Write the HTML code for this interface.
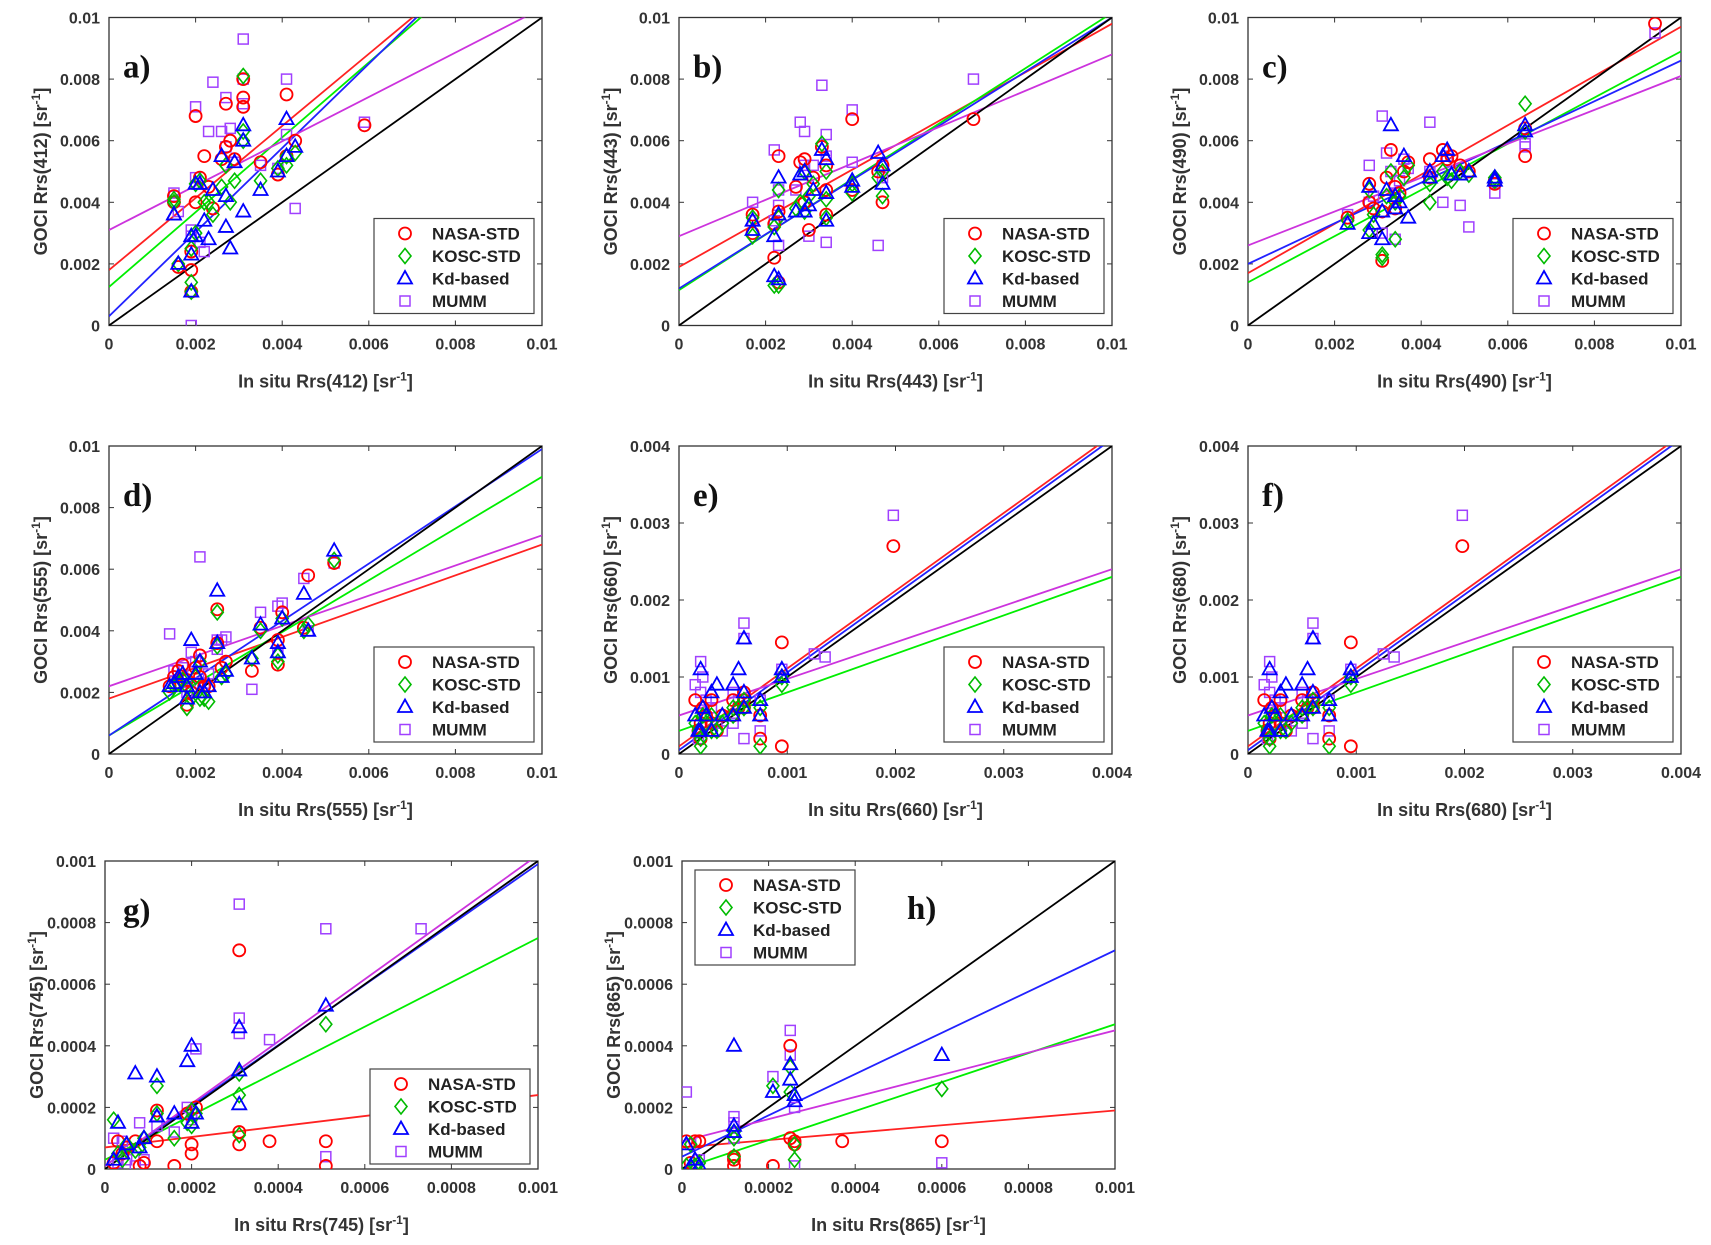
<!DOCTYPE html>
<html><head><meta charset="utf-8"><style>
html,body{margin:0;padding:0;background:#fff;}
svg{display:block;font-family:"Liberation Sans",sans-serif;}
</style></head><body>
<svg id="fig" width="1711" height="1245" viewBox="0 0 1711 1245" xmlns="http://www.w3.org/2000/svg"></svg>
<script>
// ---- data ----
const aX=[0.0015,0.0015,0.0016,0.0019,0.0019,0.0019,0.0020,0.0020,0.0021,0.0022,0.0023,0.0024,0.0026,0.0027,0.0027,0.0028,0.0029,0.0031,0.0031,0.0031,0.0035,0.0039,0.0041,0.0041,0.0043,0.0059];
const aNASA=[0.0042,0.0040,0.0019,0.0018,0.0011,0.0024,0.0040,0.0068,0.0048,0.0055,0.0045,0.0038,0.0054,0.0072,0.0058,0.0060,0.0054,0.0080,0.0074,0.0071,0.0053,0.0049,0.0075,0.0055,0.0060,0.0065];
const aKOSC=[0.0041,0.0040,0.0020,0.0014,0.0011,0.0025,0.0030,0.0046,0.0047,0.0040,0.0040,0.0036,0.0045,0.0052,0.0052,0.0040,0.0047,0.0081,0.0063,0.0060,0.0047,0.0051,0.0052,0.0055,0.0056,null];
const aKd=[0.0036,0.0036,0.0020,0.0023,0.0011,0.0029,0.0029,0.0046,0.0046,0.0034,0.0028,0.0044,0.0055,0.0042,0.0032,0.0025,0.0053,0.0065,0.0060,0.0037,0.0044,0.0050,0.0067,0.0055,0.0058,null];
const aMUMM=[0.0043,0.0042,0.0037,0.0000,0.0031,0.0029,0.0071,0.0048,0.0027,0.0024,0.0063,0.0079,0.0063,0.0074,0.0058,0.0064,0.0053,0.0072,0.0080,0.0093,0.0052,0.0051,0.0080,0.0062,0.0038,0.0066];

const bX=[0.0017,0.0017,0.0022,0.0022,0.0023,0.0023,0.0023,0.0027,0.0028,0.0029,0.0029,0.0030,0.0031,0.0033,0.0034,0.0034,0.0034,0.0040,0.0040,0.0046,0.0047,0.0047,0.0068];
const bNASA=[0.0036,0.0030,0.0022,0.0033,0.0055,0.0014,0.0037,0.0045,0.0053,0.0054,0.0040,0.0031,0.0048,0.0058,0.0044,0.0036,0.0052,0.0067,0.0044,0.0050,0.0040,0.0052,0.0067];
const bKOSC=[0.0035,0.0029,0.0013,0.0032,0.0044,0.0013,0.0035,0.0038,0.0040,0.0050,0.0037,0.0042,0.0046,0.0059,0.0041,0.0035,0.0050,0.0046,0.0043,0.0048,0.0042,0.0050,null];
const bKd=[0.0034,0.0031,0.0016,0.0029,0.0048,0.0015,0.0036,0.0037,0.0049,0.0050,0.0037,0.0039,0.0044,0.0057,0.0043,0.0034,0.0054,0.0047,0.0045,0.0056,0.0046,0.0052,null];
const bMUMM=[0.0040,0.0034,0.0034,0.0057,0.0039,0.0026,0.0044,0.0044,0.0066,0.0063,0.0052,0.0029,0.0052,0.0078,0.0062,0.0027,0.0055,0.0070,0.0053,0.0026,0.0048,0.0052,0.0080];

const cX=[0.0023,0.0028,0.0028,0.0029,0.0031,0.0031,0.0032,0.0033,0.0034,0.0034,0.0035,0.0036,0.0037,0.0042,0.0042,0.0045,0.0046,0.0047,0.0049,0.0051,0.0057,0.0057,0.0064,0.0064,0.0094];
const cNASA=[0.0035,0.0046,0.0040,0.0038,0.0021,0.0037,0.0048,0.0057,0.0045,0.0038,0.0043,0.0050,0.0053,0.0054,0.0048,0.0057,0.0054,0.0055,0.0052,0.0050,0.0047,0.0046,0.0055,0.0064,0.0098];
const cKOSC=[0.0034,0.0044,0.0031,0.0036,0.0023,0.0022,0.0042,0.0050,0.0040,0.0028,0.0042,0.0048,0.0052,0.0040,0.0046,0.0050,0.0048,0.0047,0.0050,0.0049,0.0048,0.0047,0.0072,0.0063,null];
const cKd=[0.0033,0.0045,0.0030,0.0033,0.0028,0.0037,0.0044,0.0065,0.0042,0.0038,0.0040,0.0055,0.0035,0.0048,0.0050,0.0055,0.0057,0.0049,0.0049,0.0050,0.0048,0.0047,0.0063,0.0065,null];
const cMUMM=[0.0036,0.0052,0.0040,0.0042,0.0030,0.0068,0.0056,0.0050,0.0028,0.0043,0.0047,0.0054,0.0051,0.0066,0.0050,0.0040,0.0055,0.0050,0.0039,0.0032,0.0043,0.0046,0.0058,0.0059,0.0095];

const dX=[0.0014,0.0015,0.0016,0.0017,0.0018,0.0018,0.0019,0.0020,0.0021,0.0021,0.0022,0.0023,0.0025,0.0025,0.0026,0.0027,0.0033,0.0035,0.0039,0.0039,0.0040,0.0045,0.0046,0.0052];
const dNASA=[0.0022,0.0025,0.0027,0.0029,0.0016,0.0024,0.0020,0.0028,0.0032,0.0025,0.0022,0.0022,0.0047,0.0036,0.0028,0.0030,0.0027,0.0041,0.0029,0.0037,0.0046,0.0041,0.0058,0.0062];
const dKOSC=[0.0020,0.0022,0.0023,0.0024,0.0015,0.0022,0.0018,0.0025,0.0030,0.0018,0.0018,0.0017,0.0046,0.0035,0.0025,0.0026,0.0031,0.0040,0.0030,0.0032,0.0044,0.0040,0.0042,0.0063];
const dKd=[0.0022,0.0023,0.0025,0.0026,0.0018,0.0022,0.0037,0.0026,0.0030,0.0020,0.0020,0.0022,0.0053,0.0036,0.0025,0.0027,0.0031,0.0042,0.0033,0.0036,0.0044,0.0052,0.0040,0.0066];
const dMUMM=[0.0039,0.0027,0.0027,0.0028,0.0020,0.0024,0.0033,0.0030,0.0064,0.0023,0.0023,0.0026,0.0037,0.0034,0.0037,0.0038,0.0021,0.0046,0.0033,0.0048,0.0049,0.0057,0.0040,0.0062];

const eX=[0.00015,0.00018,0.0002,0.0002,0.00022,0.00025,0.0003,0.0003,0.00035,0.0004,0.0005,0.0005,0.00055,0.0006,0.0006,0.0006,0.00075,0.00075,0.00095,0.00095,0.00125,0.00135,0.00198];
const eNASA=[0.0007,0.0003,0.0004,0.0002,0.0006,0.0005,0.0007,0.0004,0.0003,0.0005,0.0007,0.0005,0.0006,0.0008,0.0007,0.0006,0.0002,0.0005,0.00145,0.0001,null,null,0.0027];
const eKOSC=[0.0004,0.0003,0.0001,0.0002,0.0005,0.0004,0.0005,0.0003,0.0003,0.0004,0.0006,0.0005,0.0006,0.0007,0.0006,0.0006,0.0001,0.0006,0.0009,0.0010,null,null,null];
const eKd=[0.0005,0.0003,0.0003,0.0011,0.0006,0.0005,0.0008,0.0003,0.0009,0.0005,0.0009,0.0005,0.0011,0.0015,0.0008,0.0006,0.0005,0.0007,0.0010,0.0011,null,null,null];
const eMUMM=[0.0009,0.0002,0.0012,0.0008,0.0010,0.0007,0.0006,0.0004,0.0004,0.0003,0.0004,0.0008,0.0007,0.0017,0.0015,0.0002,0.0003,0.0007,0.0010,0.0011,0.0013,0.00126,0.0031];

const gX=[0.00002,0.00003,0.00004,0.00005,0.00007,0.00008,0.00009,0.00012,0.00012,0.00016,0.00019,0.0002,0.0002,0.00021,0.00031,0.00031,0.00031,0.00038,0.00051,0.00051,0.00073];
const gNASA=[0.00002,0.00009,0.00005,0.00007,0.00009,0.00001,0.00002,0.00019,0.00009,0.00001,0.00018,0.00008,0.00005,0.0002,0.00071,0.00008,0.00012,0.00009,0.00009,0.00001,null];
const gKOSC=[0.00016,0.00005,0.00003,0.00008,0.00006,0.00007,0.0001,0.00027,0.00018,0.0001,0.00015,0.00019,0.00014,0.00018,0.00024,0.00011,0.00031,null,0.00047,null,null];
const gKd=[0.00003,0.00015,0.00005,0.00008,0.00031,0.00007,0.0001,0.0003,0.00017,0.00018,0.00035,0.0004,0.00015,0.00018,0.00046,0.00021,0.00032,null,0.00053,null,null];
const gMUMM=[0.0001,0.00002,0.00009,0.00003,0.00001,0.00015,0.00003,0.00017,0.00014,0.00012,0.0002,0.00016,0.00018,0.00039,0.00086,0.00049,0.00044,0.00042,0.00078,0.00004,0.00078];

const hX=[0.00001,0.00002,0.00003,0.00004,0.00012,0.00012,0.00012,0.00021,0.00025,0.00025,0.00026,0.00026,0.00037,0.0006];
const hNASA=[0.00009,0.00002,0.00009,0.00009,0.00004,0.00001,0.00003,0.00001,0.0001,0.0004,0.00009,0.00008,0.00009,0.00009];
const hKOSC=[0.00001,0.00008,0.00001,0.00002,0.00012,0.00004,0.0001,0.00027,0.00025,0.00033,0.00003,0.00008,null,0.00026];
const hKd=[0.00008,0.00001,0.00003,0.00001,0.0004,0.00012,0.00014,0.00025,0.00029,0.00034,0.00022,0.00024,null,0.00037];
const hMUMM=[0.00025,0.00008,0.00001,0.00003,0.00017,0.00015,0.0001,0.0003,0.00045,0.00037,0.00001,0.0002,null,0.00002];

// regression fits: [intercept, slope] for NASA, KOSC, Kd, MUMM
const aFit=[[0.0018,1.17],[0.00125,1.215],[0.0003,1.366],[0.0031,0.72]];
const bFit=[[0.0019,0.79],[0.00115,0.9],[0.0012,0.88],[0.0029,0.59]];
const cFit=[[0.0017,0.8],[0.0014,0.75],[0.002,0.66],[0.0026,0.55]];
const dFit=[[0.0018,0.5],[0.0006,0.84],[0.0006,0.93],[0.0022,0.49]];
const eFit=[[0.0001,1.01],[0.0003,0.5],[0.00005,1.01],[0.0005,0.475]];
const gFit=[[0.00007,0.17],[0.00003,0.72],[0.00001,0.98],[0.00001,1.01]];
const hFit=[[0.00007,0.12],[0.0,0.47],[0.00004,0.67],[0.00009,0.36]];

const ticks01=["0","0.002","0.004","0.006","0.008","0.01"];
const ticks004=["0","0.001","0.002","0.003","0.004"];
const ticks001=["0","0.0002","0.0004","0.0006","0.0008","0.001"];
const methods=["NASA-STD","KOSC-STD","Kd-based","MUMM"];

// ---- layout ----
const NS="http://www.w3.org/2000/svg";
const svg=document.getElementById('fig');
const COL=["#ff0000","#00bb00","#0000ff","#a040ff"];
const LINECOL=["#ff2222","#00ee00","#2222ff","#cc33dd"];
function mk(tag,attrs,parent){const e=document.createElementNS(NS,tag);for(const k in attrs)e.setAttribute(k,attrs[k]);(parent||svg).appendChild(e);return e;}

const panels=[
 {id:"a",wave:"412",x0:109,y0:17.5,max:0.01,ticks:ticks01,X:aX,S:[aNASA,aKOSC,aKd,aMUMM],F:aFit,leg:[265,201],lab:[14,60]},
 {id:"b",wave:"443",x0:679,y0:17.5,max:0.01,ticks:ticks01,X:bX,S:[bNASA,bKOSC,bKd,bMUMM],F:bFit,leg:[265,201],lab:[14,60]},
 {id:"c",wave:"490",x0:1248,y0:17.5,max:0.01,ticks:ticks01,X:cX,S:[cNASA,cKOSC,cKd,cMUMM],F:cFit,leg:[265,201],lab:[14,60]},
 {id:"d",wave:"555",x0:109,y0:446,max:0.01,ticks:ticks01,X:dX,S:[dNASA,dKOSC,dKd,dMUMM],F:dFit,leg:[265,201],lab:[14,60]},
 {id:"e",wave:"660",x0:679,y0:446,max:0.004,ticks:ticks004,X:eX,S:[eNASA,eKOSC,eKd,eMUMM],F:eFit,leg:[265,201],lab:[14,60]},
 {id:"f",wave:"680",x0:1248,y0:446,max:0.004,ticks:ticks004,X:eX,S:[eNASA,eKOSC,eKd,eMUMM],F:eFit,leg:[265,201],lab:[14,60]},
 {id:"g",wave:"745",x0:105,y0:861,max:0.001,ticks:ticks001,X:gX,S:[gNASA,gKOSC,gKd,gMUMM],F:gFit,leg:[265,208],lab:[18,60]},
 {id:"h",wave:"865",x0:682,y0:861,max:0.001,ticks:ticks001,X:hX,S:[hNASA,hKOSC,hKd,hMUMM],F:hFit,leg:[13,9],lab:[225,58]}
];
const W=433,H=308;

function marker(g,k,cx,cy){
  let e;
  if(k===0){e=mk('circle',{cx:cx,cy:cy,r:6,fill:'none',stroke:COL[0],'stroke-width':1.8},g);}
  else if(k===1){e=mk('polygon',{points:`${cx},${cy-7.5} ${cx+6},${cy} ${cx},${cy+7.5} ${cx-6},${cy}`,fill:'none',stroke:COL[1],'stroke-width':1.6},g);}
  else if(k===2){e=mk('polygon',{points:`${cx},${cy-7.5} ${cx+7},${cy+5} ${cx-7},${cy+5}`,fill:'none',stroke:COL[2],'stroke-width':1.8},g);}
  else {e=mk('rect',{x:cx-5,y:cy-5,width:10,height:10,fill:'none',stroke:COL[3],'stroke-width':1.5},g);}
  return e;
}

panels.forEach(p=>{
  const g=mk('g',{});
  
  
  const sx=v=>p.x0+v/p.max*W, sy=v=>p.y0+H-v/p.max*H;
  const clipId='clip'+p.id;
  const cp=mk('clipPath',{id:clipId},g); mk('rect',{x:p.x0,y:p.y0,width:W,height:H},cp);
  mk('rect',{x:p.x0,y:p.y0,width:W,height:H,fill:'#fff',stroke:'#333','stroke-width':1.3},g);
  const n=p.ticks.length;
  p.ticks.forEach((t,i)=>{
    const v=p.max*i/(n-1);
    const X=sx(v),Y=sy(v);
    mk('line',{x1:X,y1:p.y0+H,x2:X,y2:p.y0+H-5,stroke:'#333'},g);
    mk('line',{x1:X,y1:p.y0,x2:X,y2:p.y0+5,stroke:'#333'},g);
    mk('line',{x1:p.x0,y1:Y,x2:p.x0+5,y2:Y,stroke:'#333'},g);
    mk('line',{x1:p.x0+W,y1:Y,x2:p.x0+W-5,y2:Y,stroke:'#333'},g);
    const tx=mk('text',{x:X,y:p.y0+H+24,'text-anchor':'middle','font-size':16,'font-weight':'bold',fill:'#333'},g);
    tx.textContent=t;
    
    
    const ty=mk('text',{x:p.x0-9,y:Y+6,'text-anchor':'end','font-size':16,'font-weight':'bold',fill:'#333'},g);
    ty.textContent=t;
    
    
  });
  const xl=mk('text',{x:p.x0+W/2,y:p.y0+H+62,'text-anchor':'middle','font-size':18,'font-weight':'bold',fill:'#333'},g);
  xl.innerHTML='In situ Rrs('+p.wave+') [sr<tspan dy="-7" font-size="12">-1</tspan><tspan dy="7">]</tspan>';
  
  
  const yc=p.y0+H/2, xc=p.x0-62;
  const yl=mk('text',{x:xc,y:yc,'text-anchor':'middle','font-size':18,'font-weight':'bold',fill:'#333',transform:`rotate(-90 ${xc} ${yc})`},g);
  yl.innerHTML='GOCI Rrs('+p.wave+') [sr<tspan dy="-7" font-size="12">-1</tspan><tspan dy="7">]</tspan>';
  
  
  const cg=mk('g',{'clip-path':`url(#${clipId})`},g);
  p.F.forEach((f,k)=>{
    const l=mk('line',{x1:sx(0),y1:sy(f[0]),x2:sx(p.max),y2:sy(f[0]+f[1]*p.max),stroke:LINECOL[k],'stroke-width':1.8},cg);
    
    
  });
  const one=mk('line',{x1:sx(0),y1:sy(0),x2:sx(p.max),y2:sy(p.max),stroke:'#000','stroke-width':1.8},cg);
  
  
  [3,0,1,2].forEach(k=>{
    p.S[k].forEach((v,i)=>{
      if(v===null)return;
      const m=marker(cg,k,sx(p.X[i]),sy(v));
      
      
    });
  });
  const pl=mk('text',{x:p.x0+p.lab[0],y:p.y0+p.lab[1],'font-family':'"Liberation Serif",serif','font-size':33,'font-weight':'bold',fill:'#111'},g);
  pl.textContent=p.id+')';
  
  
  const lg=mk('g',{},g);
  
  
  const lx=p.x0+p.leg[0], ly=p.y0+p.leg[1];
  mk('rect',{x:lx,y:ly,width:160,height:95,fill:'#fff',stroke:'#444','stroke-width':1.2},lg);
  methods.forEach((m,k)=>{
    const yy=ly+15+k*22.5;
    marker(lg,k,lx+31,yy);
    const t=mk('text',{x:lx+58,y:yy+6,'font-size':17,'font-weight':'bold',fill:'#222'},lg);
    t.textContent=m;
    
    
  });
});
</script>
</body></html>
